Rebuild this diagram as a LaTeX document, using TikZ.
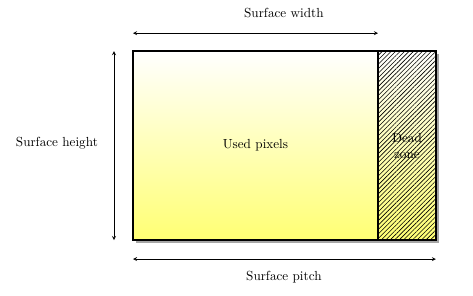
\documentclass[tikz,border=0pt]{standalone}
\usepackage{tikz}
\usetikzlibrary{arrows, positioning, shadows, patterns.meta}
\definecolor{pixelyellow}{RGB}{255, 255, 115}
\tikzstyle{area} = [rectangle, draw=black, line width=0.4mm, outer sep=0pt,
                    minimum height=5.05cm, top color=white, bottom color=pixelyellow,
                    drop shadow={shadow xshift=0.07cm, shadow yshift=-0.07cm, fill=black!35, opacity=1}]
\tikzstyle{dim} = [thin, <->, >=stealth]

\begin{document}
\begin{tikzpicture}
        \useasboundingbox (0,0) rectangle (12.63,7.88);

        \node (Used) [area, minimum width=6.54cm, anchor=north west] at (3.551,6.515) {Used pixels};

        %Hatched part on the right
        \node (Dead) [area, minimum width=1.55cm, right=0cm of Used, align=center,
                      postaction={pattern={Lines[angle=45, distance=2.4pt, line width=0.45pt]}},
                      postaction={draw, line width=0.4mm}] {Dead\\zone};

        %Dimension lines
        \coordinate (WidthL) at (3.551,6.995);
        \coordinate (WidthR) at (10.093,6.995);
        \coordinate (HeightT) at (3.044,6.515);
        \coordinate (HeightB) at (3.044,1.468);
        \coordinate (PitchL) at (3.551,0.961);
        \coordinate (PitchR) at (11.641,0.961);

        \draw [dim] (WidthL) -- (WidthR);
        \draw [dim] (HeightT) -- (HeightB);
        \draw [dim] (PitchL) -- (PitchR);

        \node (Width) at (7.58,7.53) {Surface width};
        \node (Height) at (1.52,4.06) {Surface height};
        \node (Pitch) at (7.58,0.48) {Surface pitch};

    \end{tikzpicture}
\end{document}
